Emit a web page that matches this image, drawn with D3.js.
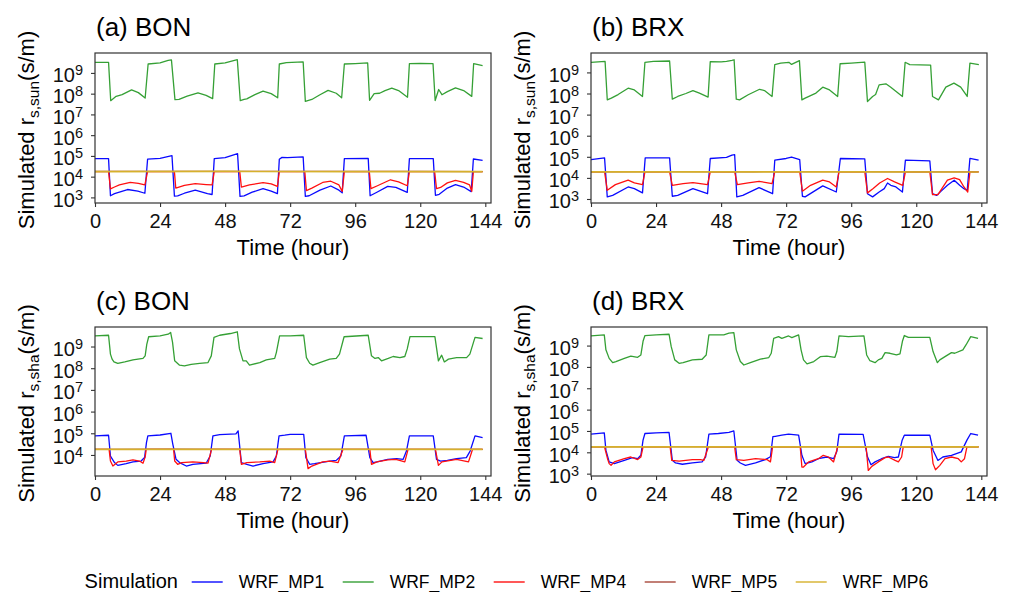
<!DOCTYPE html>
<html><head><meta charset="utf-8">
<script src="https://cdn.jsdelivr.net/npm/d3@7"></script>
<style>
body{margin:0;background:#fff;}
svg{display:block;font-family:"Liberation Sans",Arial,Helvetica,sans-serif;}
</style></head><body>
<svg id="chart" width="1012" height="592"></svg>
<script>
// ---------------- DATA (values stored as log10 of resistance, s/m) ----------------
const seriesNames = ["WRF_MP1", "WRF_MP2", "WRF_MP4", "WRF_MP5", "WRF_MP6"];
const panelTitles = ["(a) BON", "(b) BRX", "(c) BON", "(d) BRX"];
const panelSubscripts = ["s,sun", "s,sun", "s,sha", "s,sha"];
const xTickValues = [0, 24, 48, 72, 96, 120, 144];
const yTickExponents = [3, 4, 5, 6, 7, 8, 9];
const yLimitsLog = [[2.73, 9.96], [2.81, 9.92], [3.03, 9.90], [2.89, 9.87]];

// (a) BON, sunlit
const bonSunMP1 = [[0,4.87],[5,4.87],[5.7,3.08],[7.2,3.18],[12,3.38],[15.8,3.3],[18.4,3.2],[19.4,4.84],[24,4.88],[28.4,5.01],[29.3,3.06],[30.5,3.07],[33,3.2],[37,3.35],[41.5,3.18],[43.2,3.14],[44,4.87],[48,4.92],[52.6,5.11],[53.5,3.05],[55,3.07],[58,3.25],[62,3.42],[65,3.3],[67.3,3.18],[68,4.84],[69,4.93],[71,4.92],[76.8,4.95],[77.6,3.05],[79,3.08],[83,3.35],[87,3.55],[90,3.35],[91.2,3.22],[92,4.87],[100.8,4.88],[101.5,3.08],[104,3.25],[108,3.53],[111,3.48],[115.2,3.24],[116,4.87],[124.8,4.87],[125.6,3.1],[127,3.15],[130,3.45],[133,3.62],[136,3.5],[138.8,3.28],[139.6,4.85],[143,4.78]];
const bonSunMP2 = [[0,9.51],[5,9.51],[5.8,7.66],[7.8,7.87],[10,7.95],[13.5,8.18],[16,8.05],[18.5,7.79],[19.6,9.43],[24,9.48],[27,9.6],[28.2,9.63],[29.5,7.71],[31,7.72],[34,7.88],[38,8.04],[41,7.92],[43.4,7.76],[44.2,9.43],[48,9.48],[52.5,9.64],[53.6,7.66],[55,7.72],[56,7.75],[59,7.95],[62,8.12],[65,8.0],[67.4,7.8],[68,9.43],[70.6,9.5],[76.8,9.53],[77.6,7.63],[80,7.72],[83,7.95],[86,8.16],[89,8.02],[91,7.8],[92,9.43],[96,9.45],[100.6,9.48],[101.3,7.68],[103,8.0],[105,8.02],[107,8.15],[109.5,8.27],[112,8.15],[115.3,7.83],[116,9.45],[120,9.46],[124.7,9.45],[125.5,7.67],[126.8,8.2],[128,7.95],[130,8.1],[133,8.28],[136,8.15],[139,7.87],[139.7,9.45],[143,9.35]];
const bonSunMP4 = [[0,4.24],[5,4.24],[5.7,3.41],[7.2,3.5],[9,3.6],[13,3.72],[16,3.68],[18.4,3.6],[19.4,4.24],[29.3,4.24],[29.8,3.45],[33,3.58],[37,3.66],[41,3.62],[43.2,3.6],[44,4.24],[53.4,4.24],[54,3.5],[57,3.6],[62,3.71],[65,3.65],[67.3,3.53],[68,4.24],[77.4,4.24],[78,3.33],[80,3.45],[84,3.72],[87,3.78],[90,3.6],[91.2,3.29],[92,4.24],[101.2,4.24],[101.8,3.42],[104,3.55],[109,3.85],[112,3.75],[115.2,3.56],[116,4.24],[125.3,4.24],[126,3.42],[127.5,3.48],[130,3.7],[133,3.82],[136,3.72],[138.2,3.6],[139,3.29],[139.6,4.24],[143,4.24]];
const bonSunMP5 = [[0,4.25],[30,4.26],[60,4.25],[90,4.25],[120,4.25],[143,4.24]];
const bonSunMP6 = [[0,4.24],[48,4.25],[96,4.24],[143,4.24]];

// (b) BRX, sunlit
const brxSunMP1 = [[0,4.87],[5,4.95],[6,3.1],[8,3.17],[13.7,3.57],[16,3.49],[19,3.29],[20,4.95],[29,4.95],[30,3.13],[32,3.17],[37.6,3.49],[43,3.25],[44,4.92],[50,4.97],[52,5.08],[53,5.1],[53.8,3.1],[56,3.17],[62,3.54],[67,3.25],[67.8,4.84],[72,4.92],[74,4.99],[77,4.87],[78,3.13],[79,3.1],[85.5,3.62],[90.5,3.33],[92,4.92],[101,4.9],[102,3.25],[103.9,3.1],[106.3,3.33],[108.2,3.49],[109.4,3.76],[110.6,3.65],[112.5,3.57],[114.9,3.33],[116,4.84],[125,4.81],[126,3.25],[127.5,3.17],[129,3.35],[131.5,3.65],[134,3.89],[136,3.65],[137.6,3.49],[138.8,3.41],[139.8,4.92],[143,4.84]];
const brxSunMP2 = [[0,9.48],[5.2,9.52],[6,7.7],[7.5,7.78],[10,7.95],[13.7,8.25],[16,8.17],[19,7.86],[19.9,9.48],[23,9.52],[29,9.54],[30,7.73],[32,7.86],[35,8.0],[37.6,8.14],[40,8.02],[43.2,7.83],[44,9.51],[48,9.5],[50,9.52],[52,9.57],[52.8,9.6],[53.6,7.73],[54.8,7.7],[58,7.94],[62.2,8.2],[64,8.14],[66.8,7.86],[67.8,9.37],[70,9.44],[73,9.48],[74,9.38],[76.9,9.56],[77.8,7.7],[79,7.78],[83,8.02],[85.5,8.3],[88,8.17],[91,7.86],[91.9,9.41],[96,9.44],[101,9.49],[102,7.62],[103.9,7.86],[105,7.95],[106.3,8.41],[108.8,8.46],[110.6,8.3],[114.9,7.86],[115.9,9.48],[117.6,9.37],[125.3,9.35],[126,7.86],[128.2,7.7],[130.9,8.3],[133.9,8.49],[136.4,8.3],[138.8,7.86],[139.8,9.44],[143.1,9.37]];
const brxSunMP4 = [[0,4.29],[5,4.29],[6,3.41],[9,3.68],[13.7,3.89],[16,3.76],[19,3.68],[19.9,4.29],[29,4.29],[30,3.65],[34,3.73],[37.6,3.78],[43,3.68],[44,4.29],[53,4.29],[54,3.68],[58,3.76],[62,3.84],[66.8,3.73],[67.8,4.29],[77,4.29],[78,3.37],[81,3.65],[85.5,3.89],[88,3.81],[90.5,3.57],[91.5,4.29],[101,4.29],[102,3.29],[104,3.49],[106.5,3.76],[109.4,3.97],[112,3.81],[115,3.65],[116,4.29],[125,4.29],[126,3.21],[128,3.21],[131.5,3.89],[134,4.0],[136,3.92],[137.6,3.57],[139,3.33],[139.8,4.29],[143,4.29]];
const brxSunMP5 = [[0,4.29],[30,4.30],[60,4.29],[90,4.30],[120,4.29],[143,4.29]];
const brxSunMP6 = [[0,4.29],[48,4.29],[96,4.29],[143,4.28]];

// (c) BON, shaded
const bonShaMP1 = [[0,4.88],[5,4.91],[5.7,3.95],[7.2,3.65],[8.4,3.52],[11.5,3.6],[14,3.68],[17,3.72],[18.3,3.88],[19,4.58],[19.5,4.88],[24,4.92],[28,5.0],[28.7,4.5],[29.9,3.8],[31.2,3.65],[33.7,3.49],[36.1,3.57],[41,3.62],[42.5,3.95],[43.5,4.88],[46,4.94],[52,4.97],[52.8,5.11],[54,3.65],[56,3.57],[58.3,3.49],[62,3.6],[65.7,3.68],[66.9,3.95],[67.9,4.88],[70,4.91],[72,4.95],[77,4.95],[77.8,3.88],[79.2,3.57],[81,3.6],[86.6,3.72],[89,3.75],[90.7,3.95],[92,4.88],[100,4.91],[101.4,3.88],[102.6,3.65],[104,3.68],[108,3.8],[111.3,3.83],[113.7,3.8],[114.9,4.18],[116,4.88],[124.8,4.88],[126,3.8],[127.5,3.72],[130,3.75],[133.4,3.83],[137,3.88],[138.4,4.18],[140.2,4.88],[143,4.8]];
const bonShaMP2 = [[0,9.49],[5,9.52],[5.7,8.65],[6.3,8.42],[7,8.29],[8.4,8.22],[11,8.29],[14,8.38],[17.7,8.45],[18.5,8.57],[19.1,9.1],[19.8,9.45],[24,9.49],[27,9.57],[27.9,9.65],[28.6,9.2],[29.4,8.34],[31.2,8.14],[33,8.11],[35.5,8.18],[38.6,8.22],[41.7,8.26],[42.9,8.57],[43.9,9.42],[46,9.52],[50,9.6],[52.5,9.68],[53.3,8.89],[54.6,8.34],[55.8,8.34],[57,8.14],[60.8,8.26],[63.2,8.38],[66.3,8.45],[66.9,8.72],[68.1,9.49],[72,9.49],[77,9.52],[78,8.49],[79.2,8.23],[80.4,8.14],[82.9,8.26],[86.6,8.42],[89,8.45],[90.2,8.65],[91.9,9.45],[100.8,9.52],[102,8.57],[103.3,8.45],[104.5,8.49],[105.7,8.34],[108.2,8.45],[110,8.54],[112.5,8.49],[114.3,8.54],[115.2,8.89],[116.2,9.46],[125.4,9.46],[126.7,8.34],[127.9,8.6],[128.9,8.29],[130.4,8.42],[133.4,8.49],[137.1,8.49],[138.3,8.65],[140.2,9.42],[143,9.37]];
const bonShaMP4 = [[0,4.26],[5.2,4.26],[5.7,3.72],[6.6,3.49],[8.4,3.68],[11.5,3.72],[14,3.77],[16.4,3.72],[17.7,3.62],[18.5,3.9],[18.9,4.26],[29,4.26],[29.4,3.72],[30.5,3.57],[32,3.65],[36.1,3.68],[40,3.65],[41.7,3.62],[43,4.26],[53.4,4.26],[54,3.57],[56,3.65],[60.8,3.68],[64.5,3.72],[66.3,3.65],[67.5,4.26],[77.6,4.26],[78.6,3.37],[80,3.49],[84,3.68],[86.6,3.72],[89.7,3.65],[91.5,4.26],[101.4,4.26],[102,3.57],[104,3.68],[108,3.77],[111,3.8],[114.3,3.68],[115.5,4.26],[125.6,4.26],[126.7,3.52],[128,3.68],[133.4,3.8],[136.5,3.72],[137.8,3.68],[139.3,4.26],[143,4.26]];
const bonShaMP5 = [[0,4.26],[30,4.27],[60,4.26],[90,4.26],[120,4.26],[143,4.26]];
const bonShaMP6 = [[0,4.26],[48,4.26],[96,4.26],[143,4.26]];

// (d) BRX, shaded
const brxShaMP1 = [[0,4.85],[4.9,4.91],[5.5,4.1],[6.7,3.55],[8.6,3.47],[12.3,3.62],[15.3,3.75],[17.2,3.7],[18.4,3.86],[19.2,4.57],[19.9,4.88],[24,4.91],[28.8,4.93],[30,3.63],[31.2,3.5],[33.7,3.44],[37.4,3.5],[41,3.55],[42.3,3.79],[43.5,4.85],[47,4.88],[50.9,4.93],[52.7,5.0],[53.9,3.63],[55.1,3.5],[57,3.39],[60.7,3.5],[64.3,3.66],[66.2,3.79],[67.1,4.73],[68,4.75],[70.4,4.8],[72.9,4.85],[76.6,4.8],[77.8,3.86],[79,3.47],[81.5,3.55],[83.9,3.7],[87,3.78],[89.5,3.7],[90.7,4.04],[91.5,4.85],[100.4,4.84],[102,3.79],[103.3,3.42],[104.8,3.55],[107.2,3.7],[109.7,3.81],[112,3.75],[113.4,3.78],[114.8,4.57],[115.6,4.8],[125,4.8],[126.2,4.1],[128,3.62],[129.8,3.78],[133,3.86],[134.8,3.94],[136.6,4.02],[138.7,4.57],[140.1,4.88],[142.8,4.8]];
const brxShaMP2 = [[0,9.45],[4.9,9.5],[5.5,8.8],[6.7,8.4],[8,8.2],[9.2,8.25],[12.3,8.4],[14.7,8.51],[17.2,8.45],[18.4,8.56],[19.2,9.2],[19.9,9.47],[24,9.5],[28.8,9.53],[29.6,8.95],[30.9,8.33],[32.5,8.17],[34,8.2],[37.4,8.33],[41,8.36],[42.5,8.56],[43.5,9.5],[49,9.5],[50.9,9.58],[52.7,9.61],[53.6,8.8],[55.1,8.25],[56.4,8.09],[58.8,8.2],[62.5,8.36],[65.6,8.44],[66.5,8.64],[67.4,9.34],[69.2,9.42],[70.4,9.34],[72.9,9.45],[74.1,9.37],[76.6,9.5],[77.5,8.8],[78.4,8.33],[79.7,8.14],[82.2,8.25],[84.6,8.48],[87,8.51],[90,8.45],[90.7,8.72],[91.5,9.45],[95,9.42],[100.7,9.45],[101.7,8.56],[102.9,8.29],[104.8,8.2],[106,8.33],[107.3,8.4],[108.5,8.67],[110.3,8.64],[112.7,8.56],[114,8.61],[114.9,9.2],[115.6,9.47],[117.1,9.38],[125,9.38],[126.2,8.72],[127.8,8.2],[128.7,8.33],[130.6,8.48],[133,8.67],[134.2,8.64],[137.2,8.8],[138.4,9.04],[140.1,9.42],[142.8,9.34]];
const brxShaMP4 = [[0,4.25],[5,4.25],[6.1,3.7],[6.7,3.47],[7.4,3.39],[8.6,3.55],[12.3,3.7],[14.7,3.78],[17.2,3.66],[18.4,3.78],[19.2,4.25],[29.2,4.25],[29.8,3.62],[32.5,3.59],[37.4,3.66],[40.4,3.66],[41.6,3.62],[43.3,4.25],[53,4.25],[53.6,3.66],[56.4,3.62],[60.7,3.7],[64.9,3.66],[66.2,3.55],[67,4.25],[77.2,4.25],[77.8,3.31],[78.4,3.31],[80.3,3.55],[83.9,3.7],[85.7,3.86],[87.6,3.78],[89.5,3.55],[91,4.25],[101.5,4.25],[102.3,3.15],[103.6,3.34],[106,3.55],[108.5,3.75],[109.7,3.78],[112.2,3.62],[113.4,3.55],[114.6,3.78],[115.2,4.25],[125.5,4.25],[126.2,3.47],[127.1,3.18],[128.7,3.39],[130.6,3.7],[133,3.78],[135.5,3.7],[136.6,3.55],[137.8,3.7],[138.7,4.25],[143,4.25]];
const brxShaMP5 = [[0,4.25],[30,4.26],[60,4.25],[90,4.26],[120,4.25],[143,4.25]];
const brxShaMP6 = [[0,4.25],[48,4.25],[96,4.25],[143,4.25]];

const panelData = [
  [bonSunMP1, bonSunMP2, bonSunMP4, bonSunMP5, bonSunMP6],
  [brxSunMP1, brxSunMP2, brxSunMP4, brxSunMP5, brxSunMP6],
  [bonShaMP1, bonShaMP2, bonShaMP4, bonShaMP5, bonShaMP6],
  [brxShaMP1, brxShaMP2, brxShaMP4, brxShaMP5, brxShaMP6]
];

// ---------------- STYLE / LAYOUT ----------------
const colors = ["#0a0aff", "#35a035", "#ff1010", "#a8483c", "#d6b02c"];
const widths = [1.3, 1.3, 1.3, 1.2, 1.7];
const boxes = [
  {l: 95, t: 53, r: 491, b: 203},
  {l: 591, t: 53, r: 987, b: 203},
  {l: 95, t: 327, r: 491, b: 476},
  {l: 591, t: 327, r: 987, b: 476}
];

const svg = d3.select("#chart");

boxes.forEach((bx, p) => {
  const x = d3.scaleLinear().domain([0, 146.1]).range([bx.l, bx.r]);
  const lim = yLimitsLog[p];
  const y = d3.scaleLog().domain([Math.pow(10, lim[0]), Math.pow(10, lim[1])]).range([bx.b, bx.t]);
  const g = svg.append("g");

  const line = d3.line().x(d => x(d[0])).y(d => y(Math.pow(10, d[1])));
  panelData[p].forEach((ser, i) => {
    g.append("path").datum(ser)
      .attr("d", line)
      .attr("fill", "none")
      .attr("stroke", colors[i])
      .attr("stroke-width", widths[i])
      .attr("stroke-linejoin", "round");
  });

  g.append("rect").attr("x", bx.l).attr("y", bx.t)
    .attr("width", bx.r - bx.l).attr("height", bx.b - bx.t)
    .attr("fill", "none").attr("stroke", "#333").attr("stroke-width", 1.2);

  const gx = g.append("g").attr("transform", `translate(0,${bx.b})`)
    .call(d3.axisBottom(x).tickValues(xTickValues).tickSize(4).tickPadding(7));
  gx.attr("font-size", 20).attr("font-family", null);
  gx.select(".domain").remove();
  gx.selectAll(".tick line").attr("stroke", "#333").attr("stroke-width", 1.1);
  gx.selectAll(".tick text").attr("fill", "#111");

  const yVals = yTickExponents.map(e => Math.pow(10, e))
    .filter(v => Math.log10(v) >= lim[0] && Math.log10(v) <= lim[1]);
  const gy = g.append("g").attr("transform", `translate(${bx.l},0)`)
    .call(d3.axisLeft(y).tickValues(yVals).tickSize(4).tickFormat(() => ""));
  gy.attr("font-family", null);
  gy.select(".domain").remove();
  gy.selectAll(".tick line").attr("stroke", "#333").attr("stroke-width", 1.1);
  gy.selectAll(".tick text").remove();
  gy.selectAll(".tick").append("text")
    .attr("x", -12).attr("y", 9)
    .attr("text-anchor", "end").attr("fill", "#111").attr("font-size", 20)
    .each(function(d) {
      const t = d3.select(this);
      t.append("tspan").text("10");
      t.append("tspan").attr("font-size", 14.5).attr("dy", -7).text(Math.round(Math.log10(d)));
    });

  g.append("text").attr("x", bx.l + 1).attr("y", bx.t - 17)
    .attr("font-size", 26).attr("fill", "#000").text(panelTitles[p]);

  g.append("text").attr("x", (bx.l + bx.r) / 2).attr("y", bx.b + 52)
    .attr("text-anchor", "middle").attr("font-size", 22).attr("fill", "#000")
    .text("Time (hour)");

  const yt = g.append("text")
    .attr("transform", `translate(${bx.l - 61},${(bx.t + bx.b) / 2 + 2}) rotate(-90)`)
    .attr("text-anchor", "middle").attr("font-size", 22).attr("fill", "#000");
  yt.append("tspan").text("Simulated r");
  yt.append("tspan").attr("font-size", 15.5).attr("dy", 5).text(panelSubscripts[p]);
  yt.append("tspan").attr("dy", -5).text("(s/m)");
});

const lg = svg.append("g");
lg.append("text").attr("x", 178).attr("y", 588).attr("text-anchor", "end")
  .attr("font-size", 20).attr("fill", "#000").text("Simulation");
seriesNames.forEach((name, i) => {
  const sx = 238.7 + i * 151;
  lg.append("line").attr("x1", sx - 47).attr("x2", sx - 16)
    .attr("y1", 582).attr("y2", 582)
    .attr("stroke", colors[i]).attr("stroke-width", 1.4);
  lg.append("text").attr("x", sx).attr("y", 588)
    .attr("font-size", 17.5).attr("fill", "#000").text(name);
});
</script>
</body></html>
